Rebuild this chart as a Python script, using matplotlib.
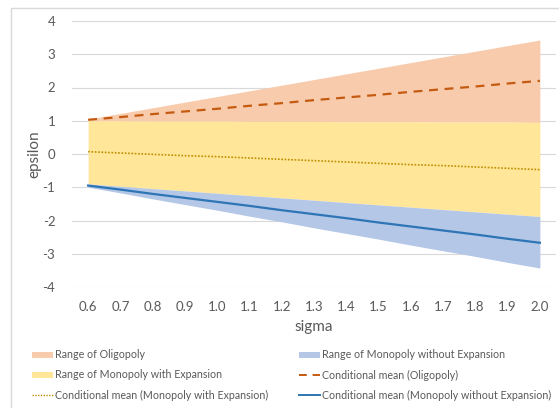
import matplotlib
matplotlib.use("Agg")
import matplotlib.pyplot as plt
from matplotlib.patches import Rectangle
from matplotlib.lines import Line2D

plt.rcParams['font.family'] = ['Lato', 'DejaVu Sans']
plt.rcParams['axes.unicode_minus'] = False

sigma = [0.6, 0.7, 0.8, 0.9, 1.0, 1.1, 1.2, 1.3, 1.4, 1.5, 1.6, 1.7, 1.8, 1.9, 2.0]
sigma_labels = [f"{s:.1f}" for s in sigma]

olig_upper = [1.05, 1.22, 1.39, 1.56, 1.73, 1.90, 2.07, 2.24, 2.41, 2.58, 2.75, 2.92, 3.09, 3.26, 3.43]
olig_mean = [1.03, 1.11, 1.20, 1.28, 1.36, 1.45, 1.53, 1.62, 1.70, 1.78, 1.87, 1.95, 2.03, 2.12, 2.20]
mwe_upper = [1.00, 1.00, 0.99, 0.99, 0.99, 0.98, 0.98, 0.98, 0.97, 0.97, 0.97, 0.96, 0.96, 0.96, 0.95]
mwe_mean = [0.07, 0.03, -0.01, -0.05, -0.08, -0.12, -0.16, -0.20, -0.24, -0.28, -0.32, -0.35, -0.39, -0.43, -0.47]
mwe_lower = [-0.90, -0.97, -1.04, -1.11, -1.18, -1.25, -1.32, -1.39, -1.46, -1.53, -1.60, -1.67, -1.74, -1.81, -1.88]
mwoe_mean = [-0.95, -1.07, -1.20, -1.32, -1.44, -1.56, -1.69, -1.81, -1.93, -2.06, -2.18, -2.30, -2.42, -2.55, -2.67]
mwoe_lower = [-1.00, -1.17, -1.35, -1.52, -1.69, -1.87, -2.04, -2.22, -2.39, -2.56, -2.74, -2.91, -3.08, -3.26, -3.43]

c_olig = "#F8CBAD"
c_olig_line = "#C55A11"
c_mwe = "#FFE699"
c_mwe_line = "#BF9000"
c_mwoe = "#B4C7E7"
c_mwoe_line = "#2E75B6"
txt = "#595959"
grid = "#D9D9D9"

W, H = 559, 408
fig = plt.figure(figsize=(W / 100, H / 100), dpi=100)

# chart frame
fig.patches.append(Rectangle((11 / W, -0.1), 1.2, 1 - 8 / H + 0.1, transform=fig.transFigure,
                             facecolor="white", edgecolor=grid, lw=1, zorder=-1))

ax = fig.add_axes([72 / W, 1 - 287 / H, (556 - 72) / W, (287 - 21) / H])
ax.set_facecolor("none")

ax.fill_between(sigma, mwe_upper, olig_upper, color=c_olig, lw=0, zorder=2)
ax.fill_between(sigma, mwe_lower, mwe_upper, color=c_mwe, lw=0, zorder=2)
ax.fill_between(sigma, mwoe_lower, mwe_lower, color=c_mwoe, lw=0, zorder=2)

ax.plot(sigma, olig_mean, color=c_olig_line, lw=1.6, dashes=(4, 3), zorder=3)
ax.plot(sigma, mwe_mean, color=c_mwe_line, lw=1.2, dashes=(1, 1), zorder=3)
ax.plot(sigma, mwoe_mean, color=c_mwoe_line, lw=1.6, zorder=3)

ax.set_xlim(0.55, 2.05)
ax.set_ylim(-4, 4)
ax.set_yticks(range(-4, 5))
ax.set_xticks(sigma)
ax.set_xticklabels(sigma_labels)
ax.grid(axis="y", color=grid, lw=0.8, zorder=1)
ax.set_axisbelow(True)
for s in ax.spines.values():
    s.set_visible(False)
ax.tick_params(length=0, colors=txt, labelsize=9.5)
ax.tick_params(axis="y", pad=12)
ax.tick_params(axis="x", pad=10)
ax.set_xlabel("sigma", color=txt, fontsize=11, labelpad=5)
ax.set_ylabel("epsilon", color=txt, fontsize=11, labelpad=1)

# legend, laid out like the spreadsheet one (row-wise, two columns)
entries = [
    ("patch", c_olig, None, "Range of Oligopoly", 32, 355),
    ("patch", c_mwoe, None, "Range of Monopoly without Expansion", 299, 355),
    ("patch", c_mwe, None, "Range of Monopoly with Expansion", 32, 375),
    ("line", c_olig_line, (4, 3), "Conditional mean (Oligopoly)", 299, 375),
    ("line", c_mwe_line, (1, 1), "Conditional mean (Monopoly with Expansion)", 32, 395),
    ("line", c_mwoe_line, None, "Conditional mean (Monopoly without Expansion)", 299, 395),
]
for kind, col, dash, label, x, y in entries:
    if kind == "patch":
        fig.patches.append(Rectangle((x / W, 1 - (y + 3) / H), 21 / W, 6 / H,
                                     transform=fig.transFigure, facecolor=col, lw=0))
    else:
        ln = Line2D([x / W, (x + 21) / W], [1 - y / H, 1 - y / H], transform=fig.transFigure,
                    color=col, lw=1.4 if dash != (1, 1) else 1.0)
        if dash:
            ln.set_dashes(dash)
        fig.lines.append(ln)
    fig.text((x + 23) / W, 1 - y / H, label, color=txt, fontsize=7.7, va="center", ha="left")

fig.savefig("out.png", dpi=100)
